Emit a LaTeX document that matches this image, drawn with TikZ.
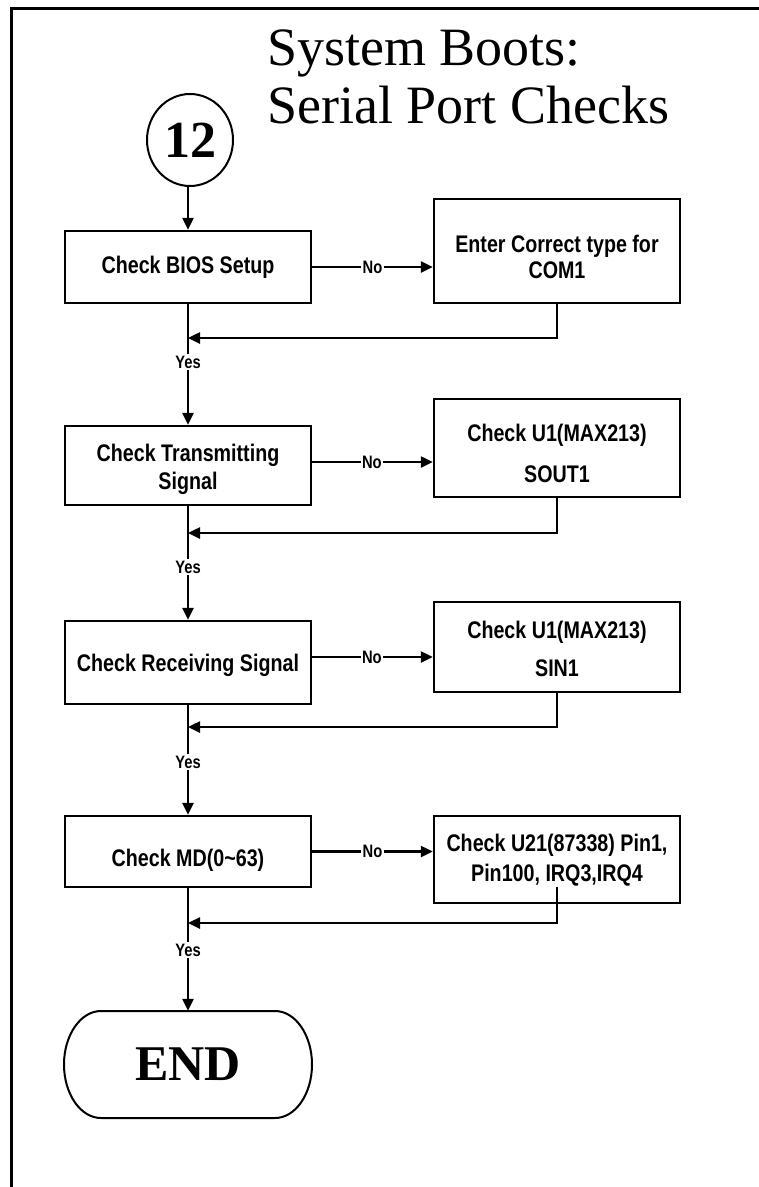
\documentclass[tikz,border=0pt]{standalone}
\usepackage{fontspec}
\setmainfont{Liberation Serif}
\newfontfamily\boxfont{Liberation Sans}[FakeStretch=0.82]
\usetikzlibrary{arrows.meta,shapes.geometric}
\begin{document}
\begin{tikzpicture}[x=1pt,y=-1pt,
  box/.style={draw, line width=2.5pt, minimum width=246pt, inner sep=0pt},
  txt/.style={font=\boxfont\bfseries\fontsize{24}{26}\selectfont, align=center, inner sep=0pt},
  lbl/.style={font=\boxfont\bfseries\fontsize{18}{19}\selectfont, fill=white, inner sep=1.5pt},
  conn/.style={line width=2.5pt},
  arr/.style={conn, -{Triangle[length=12pt,width=11pt]}},
  ttl/.style={font=\fontsize{54}{58}\selectfont, anchor=base west, inner sep=0pt},
]
\useasboundingbox (0,0) rectangle (759,1187);
% frame
\draw[line width=3pt] (11.5,1187) -- (11.5,8) -- (759,8);
% title
\node[ttl] (title1) at (267,65) {System Boots:};
\node[ttl] (title2) at (267,123) {Serial Port Checks};
% start connector
\node[ellipse, draw, line width=2pt, minimum width=86pt, minimum height=92pt, inner sep=0pt,
      font=\bfseries\fontsize{52}{52}\selectfont] (n12) at (190,140) {12};
% left boxes
\node[box, minimum height=72pt] (b1) at (188,267) {};
\node[txt] (t1) at (188,267) {Check BIOS Setup};
\node[box, minimum height=79pt] (b2) at (188,465.5) {};
\node[txt] (t2) at (188,469) {Check Transmitting\\[2pt]Signal};
\node[box, minimum height=83pt] (b3) at (188,662.5) {};
\node[txt] (t3) at (188,665) {Check Receiving Signal};
\node[box, minimum height=71pt] (b4) at (188,851.5) {};
\node[txt] (t4) at (188,860) {Check MD(0\textasciitilde63)};
% right boxes
\node[box, minimum height=104pt] (r1) at (557,251) {};
\node[txt] (u1) at (557,257) {Enter Correct type for\\COM1};
\node[box, minimum height=98pt] (r2) at (557,448) {};
\node[txt] (u2) at (557,453) {Check U1(MAX213)\\[15pt]SOUT1};
\node[box, minimum height=90pt] (r3) at (557,647) {};
\node[txt] (u3) at (557,649) {Check U1(MAX213)\\[12pt]SIN1};
\node[box, minimum height=87pt] (r4) at (557,859.5) {};
\node[txt] (u4) at (557,860) {Check U21(87338) Pin1,\\[4pt]Pin100, IRQ3,IRQ4};
% end terminal
\node[minimum width=248pt, minimum height=107pt, inner sep=0pt,
      font=\bfseries\fontsize{50}{50}\selectfont] (e) at (188,1064.5) {END};
\draw[line width=2pt] (101,1011) -- (275,1011)
  .. controls (295.4,1011) and (312,1035) .. (312,1064.5)
  .. controls (312,1094) and (295.4,1118) .. (275,1118) -- (101,1118)
  .. controls (80.6,1118) and (64,1094) .. (64,1064.5)
  .. controls (64,1035) and (80.6,1011) .. cycle;
% junction points
\coordinate (j1) at (188,338);
\coordinate (j2) at (188,533);
\coordinate (j3) at (188,727);
\coordinate (j4) at (188,923);
\coordinate (s2) at (311,462);
\coordinate (s3) at (311,657);
\coordinate (s4) at (557,887);
% main flow
\draw[arr] (n12.south -| b1.north) -- (b1.north);
\draw[arr] (b1.south) -- (b2.north);
\draw[arr] (b2.south) -- (b3.north);
\draw[arr] (b3.south) -- (b4.north);
\draw[arr] (b4.south) -- (e.north);
% no branches
\draw[arr] (b1.east) -- (r1.west |- b1.east) node[lbl, midway] (no1) {No};
\draw[arr] (s2) -- (r2.west |- s2) node[lbl, midway] (no2) {No};
\draw[arr] (s3) -- (r3.west |- s3) node[lbl, midway] (no3) {No};
\draw[arr] (b4.east) -- (r4.west |- b4.east) node[lbl, midway] (no4) {No};
% returns
\draw[arr] (r1.south) |- (j1);
\draw[arr] (r2.south) |- (j2);
\draw[arr] (r3.south) |- (j3);
\draw[arr] (s4) |- (j4);
% yes labels
\node[lbl] (y1) at (188,362) {Yes};
\node[lbl] (y2) at (188,567) {Yes};
\node[lbl] (y3) at (188,762) {Yes};
\node[lbl] (y4) at (188,950) {Yes};
\end{tikzpicture}
\end{document}
